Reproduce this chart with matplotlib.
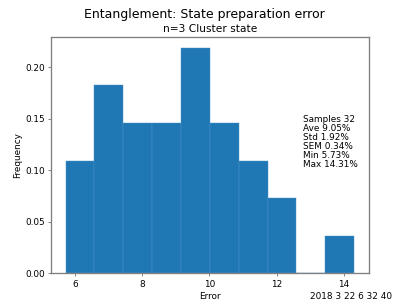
import numpy as np
import matplotlib
matplotlib.use('Agg')
import matplotlib.pyplot as plt


# histogram of state preparation error (%), 32 samples, 10 bins
BIN_EDGES = np.linspace(5.73, 14.31, 11)
COUNTS = [3, 5, 4, 4, 6, 4, 3, 2, 0, 1]

STAT_NAMES = ['Samples', 'Ave', 'Std', 'SEM', 'Min', 'Max']
STAT_VALUES = ['32', '9.05%', '1.92%', '0.34%', '5.73%', '14.31%']
TIMESTAMP = '2018 3 22 6 32 40'


def main():
    fig = plt.figure(figsize=(6.4, 4.8), dpi=64)
    ax = fig.add_subplot(111)

    ax.hist(BIN_EDGES[:-1], bins=BIN_EDGES, weights=COUNTS, density=True,
            color='#1f77b4', edgecolor='#4f93cc', linewidth=0.5)

    for sp in ax.spines.values():
        sp.set_color('#808080')
        sp.set_linewidth(1.5)
    ax.tick_params(color='#555555')

    fig.suptitle('Entanglement: State preparation error', fontsize=14,
                 y=0.975)
    ax.set_title('n=3 Cluster state', fontsize=12)
    ax.set_xlabel('Error')
    ax.set_ylabel('Frequency')

    stats = '\n'.join(f'{n} {v}' for n, v in zip(STAT_NAMES, STAT_VALUES))
    fig.text(0.74, 0.625, stats, ha='left', va='top', fontsize=10,
             linespacing=1.0)
    fig.text(0.957, 0.036, TIMESTAMP, ha='right', va='center', fontsize=10)

    fig.savefig('out.png', dpi=64)


if __name__ == '__main__':
    main()
